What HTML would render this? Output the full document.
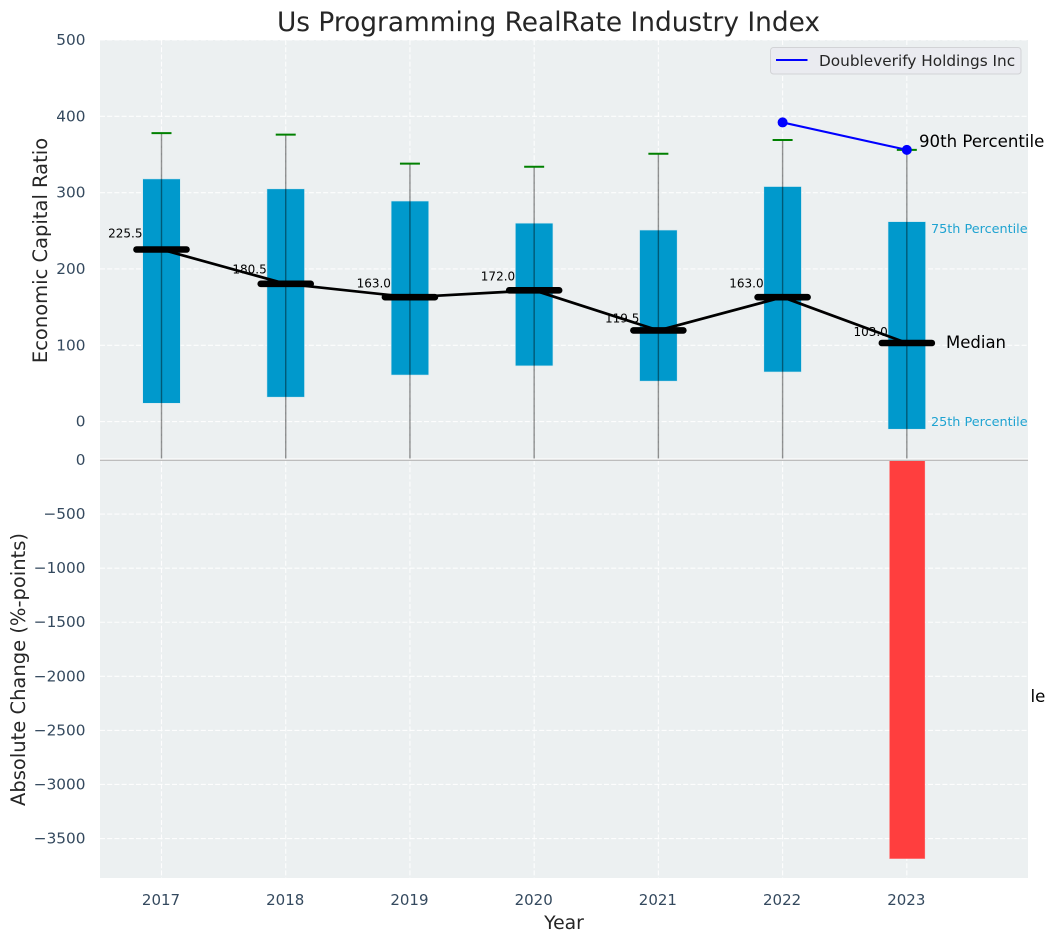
<!DOCTYPE html>
<html lang="en">
<head>
<meta charset="utf-8">
<title>Us Programming RealRate Industry Index</title>
<style>
html,body{margin:0;padding:0;background:#fff;}
svg{display:block;font-family:"DejaVu Sans","Liberation Sans",sans-serif;}
</style>
</head>
<body>
<svg id="chart" xmlns="http://www.w3.org/2000/svg" width="1054" height="942" viewBox="0 0 1054 942">
  <defs>
    <clipPath id="clip-top"><rect x="100" y="40" width="928" height="418.5"/></clipPath>
    <clipPath id="clip-bottom"><rect x="100" y="460" width="928" height="418"/></clipPath>
  </defs>
  <rect x="100" y="40" width="928" height="419" fill="#ecf0f1"/>
  <rect x="100" y="460" width="928" height="418" fill="#ecf0f1"/>
  <g id="grid"></g>
  <g id="top-marks" clip-path="url(#clip-top)"></g>
  <g id="bottom-marks" clip-path="url(#clip-bottom)"></g>
  <line x1="100" x2="1028" y1="460.3" y2="460.3" stroke="#bdbdbd" stroke-width="1.3"/>
  <line x1="100" x2="1028" y1="459" y2="459" stroke="#ffffff" stroke-width="1"/>
  <g id="labels"></g>
  <text x="548.5" y="31" text-anchor="middle" font-size="26.4" fill="#262626">Us Programming RealRate Industry Index</text>
  <text transform="translate(47,250.5) rotate(-90)" text-anchor="middle" font-size="19.5" fill="#262626">Economic Capital Ratio</text>
  <text transform="translate(25,669.5) rotate(-90)" text-anchor="middle" font-size="19.5" fill="#262626">Absolute Change (%-points)</text>
  <text x="564" y="929" text-anchor="middle" font-size="18.8" fill="#262626">Year</text>
  <g>
    <rect x="770.5" y="47.5" width="250.5" height="26.5" rx="3" fill="#eaebf0" stroke="#d2d3d6" stroke-width="1"/>
    <line x1="776" x2="807.5" y1="60" y2="60" stroke="#0000ff" stroke-width="2"/>
    <text x="819" y="66" font-size="15.3" fill="#262626">Doubleverify Holdings Inc</text>
  </g>
  <text x="919" y="147" font-size="16.6" fill="#000">90th Percentile</text>
  <text x="931" y="233" font-size="12.8" fill="#1fa3d1">75th Percentile</text>
  <text x="946" y="348" font-size="16.5" fill="#000">Median</text>
  <text x="931" y="426" font-size="12.8" fill="#1fa3d1">25th Percentile</text>
  <text x="1030.5" y="702" font-size="16.6" fill="#000">le</text>
</svg>
<script>
const years = [2017, 2018, 2019, 2020, 2021, 2022, 2023];
const p75 = [318, 305, 289, 260, 251, 308, 262];
const p25 = [24, 32, 61, 73, 53, 65, -10];
const p90 = [378, 376, 338, 334, 351, 369, 356];
const p10 = [-60, -60, -60, -60, -60, -60, -60];
const medians = [225.5, 180.5, 163.0, 172.0, 119.5, 163.0, 103.0];
const companyYears = [2022, 2023];
const companyValues = [392, 356];
const changeYears = [2023];
const changeValues = [-3685];
const topTicks = [0, 100, 200, 300, 400, 500];
const bottomTicks = [0, -500, -1000, -1500, -2000, -2500, -3000, -3500];

const SVG_NS = 'http://www.w3.org/2000/svg';
const gridLayer = document.getElementById('grid');
const topLayer = document.getElementById('top-marks');
const bottomLayer = document.getElementById('bottom-marks');
const labelLayer = document.getElementById('labels');

function xScale(year) { return 161.5 + (year - 2017) * 124.22; }
function yTop(value) { return 421.6 - value * 0.7632; }
function yBottom(value) { return 460 - value * 0.10816; }

function make(tag, attrs, parent) {
  const el = document.createElementNS(SVG_NS, tag);
  for (const k in attrs) el.setAttribute(k, attrs[k]);
  parent.appendChild(el);
  return el;
}

function fmt(v) { return String(v).replace('-', '\u2212'); }

const gridStyle = {stroke: '#ffffff', 'stroke-width': 1.1, 'stroke-dasharray': '5 2.2', opacity: 0.9};

topTicks.forEach(function (t) {
  const line = make('line', Object.assign({x1: 100, x2: 1028, y1: yTop(t), y2: yTop(t)}, gridStyle), gridLayer);
  
  
  const label = make('text', {x: 85.5, y: yTop(t) + 5, 'text-anchor': 'end', 'font-size': 15.3, fill: '#34495e'}, labelLayer);
  
  
  label.textContent = fmt(t);
});

bottomTicks.forEach(function (t) {
  if (t !== 0) {
    const line = make('line', Object.assign({x1: 100, x2: 1028, y1: yBottom(t), y2: yBottom(t)}, gridStyle), gridLayer);
    
    
  }
  const label = make('text', {x: 85.5, y: yBottom(t) + 5, 'text-anchor': 'end', 'font-size': 15.3, fill: '#34495e'}, labelLayer);
  
  
  label.textContent = fmt(t);
});

years.forEach(function (yr) {
  const x = xScale(yr);
  const g1 = make('line', Object.assign({x1: x, x2: x, y1: 40, y2: 458.5}, gridStyle), gridLayer);
  
  
  const g2 = make('line', Object.assign({x1: x, x2: x, y1: 460, y2: 878}, gridStyle), gridLayer);
  
  
  const label = make('text', {x: x - 0.5, y: 905, 'text-anchor': 'middle', 'font-size': 15, fill: '#34495e'}, labelLayer);
  
  
  label.textContent = String(yr);
});

years.forEach(function (yr, i) {
  const x = xScale(yr);
  const box = make('rect', {x: x - 18.8, y: yTop(p75[i]), width: 37.6, height: yTop(p25[i]) - yTop(p75[i]), fill: '#0099cc', stroke: '#d3e8ef', 'stroke-width': 0.6}, topLayer);
  
  
});

years.forEach(function (yr, i) {
  const x = xScale(yr);
  const whisker = make('line', {x1: x, x2: x, y1: yTop(p90[i]), y2: yTop(p10[i]), stroke: '#000', 'stroke-opacity': 0.42, 'stroke-width': 1.4}, topLayer);
  
  
  const cap = make('line', {x1: x - 10, x2: x + 10, y1: yTop(p90[i]), y2: yTop(p90[i]), stroke: '#008000', 'stroke-width': 2}, topLayer);
  
  
});

const medianPath = make('polyline', {
  points: years.map(function (yr, i) { return xScale(yr) + ',' + yTop(medians[i]); }).join(' '),
  fill: 'none', stroke: '#000', 'stroke-width': 2.7, 'stroke-linejoin': 'round'
}, topLayer);



years.forEach(function (yr, i) {
  const x = xScale(yr);
  const y = yTop(medians[i]);
  const bar = make('line', {x1: x - 25, x2: x + 25, y1: y, y2: y, stroke: '#000', 'stroke-width': 6.6, 'stroke-linecap': 'round'}, topLayer);
  
  
  const label = make('text', {x: x - 19, y: y - (2.8 + 0.041 * medians[i]), 'text-anchor': 'end', 'font-size': 12, fill: '#000'}, labelLayer);
  
  
  label.textContent = medians[i].toFixed(1);
});

const companyLine = make('polyline', {
  points: companyYears.map(function (yr, i) { return xScale(yr) + ',' + yTop(companyValues[i]); }).join(' '),
  fill: 'none', stroke: '#0000ff', 'stroke-width': 2.1
}, topLayer);



companyYears.forEach(function (yr, i) {
  const dot = make('circle', {cx: xScale(yr), cy: yTop(companyValues[i]), r: 5, fill: '#0000ff'}, topLayer);
  
  
});

changeYears.forEach(function (yr, i) {
  const x = xScale(yr);
  const y0 = yBottom(0);
  const y1 = yBottom(changeValues[i]);
  const bar = make('rect', {x: x - 17.4 + 0.2, y: Math.min(y0, y1), width: 35.2, height: Math.abs(y1 - y0), fill: '#ff3e3e', stroke: '#ff6b6b', 'stroke-width': 0.5}, bottomLayer);
  
  
});
</script>
</body>
</html>
